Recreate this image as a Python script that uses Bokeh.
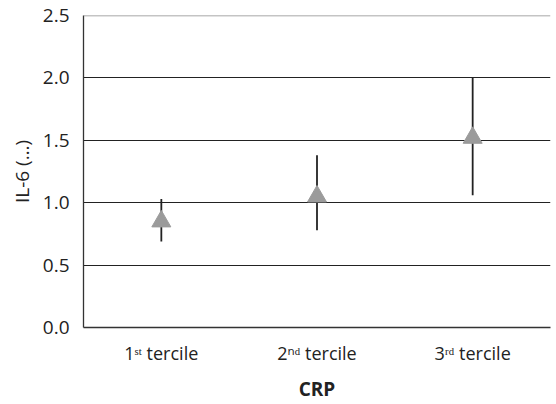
from bokeh.plotting import figure
from bokeh.models import FactorRange, Range1d, FixedTicker, Span, CustomJSTickFormatter
from bokeh.embed import file_html
from bokeh.resources import INLINE

categories = ["1ˢᵗ tercile", "2ⁿᵈ tercile", "3ʳᵈ tercile"]
il6_mean = [0.85, 1.05, 1.52]
ci_lower = [0.69, 0.78, 1.06]
ci_upper = [1.03, 1.38, 2.00]
y_ticks = [0.0, 0.5, 1.0, 1.5, 2.0, 2.5]
grid_ticks = [0.5, 1.0, 1.5, 2.0]

FONT = "Open Sans"

p = figure(width=556, height=404, x_range=FactorRange(*categories, range_padding=0),
           y_range=Range1d(0, 2.5), output_backend="svg", toolbar_location=None,
           min_border_left=83, min_border_right=6, min_border_top=15, min_border_bottom=10)
p.outline_line_color = None
p.background_fill_color = "white"
p.border_fill_color = "white"

p.segment(x0=categories, y0=ci_lower, x1=categories, y1=ci_upper,
          line_color="#222222", line_width=1.8)
p.scatter(x=categories, y=il6_mean, marker="triangle", size=19,
          fill_color="#9b9b9b", line_color="#9b9b9b")

p.xgrid.grid_line_color = None
p.ygrid.ticker = FixedTicker(ticks=grid_ticks)
p.ygrid.grid_line_color = "#222222"
p.ygrid.grid_line_width = 1.2
p.add_layout(Span(location=p.y_range.end, dimension="width", line_color="#8a8a8a", line_width=1.5))

p.yaxis.ticker = FixedTicker(ticks=y_ticks)
p.yaxis.formatter = CustomJSTickFormatter(code="return tick.toFixed(1);")
for ax in (p.xaxis[0], p.yaxis[0]):
    ax.major_tick_line_color = None
    ax.minor_tick_line_color = None
    ax.axis_line_color = "#333333"
    ax.axis_line_width = 1.3
    ax.major_label_text_font = FONT
    ax.major_label_text_color = "#222222"
    ax.axis_label_text_font = FONT
    ax.axis_label_text_color = "#222222"

p.yaxis.major_label_text_font_size = "19px"
p.yaxis.major_label_standoff = 8
p.yaxis.axis_label = "IL-6 (…)"
p.yaxis.axis_label_text_font_size = "19px"
p.yaxis.axis_label_text_font_style = "normal"
p.yaxis.axis_label_standoff = 5

p.xaxis.major_label_text_font_size = "18px"
p.xaxis.major_label_standoff = 7
p.xaxis.axis_label = "CRP"
p.xaxis.axis_label_text_font_size = "19px"
p.xaxis.axis_label_text_font_style = "bold"
p.xaxis.axis_label_standoff = 8

open("out.html", "w").write(file_html(p, INLINE))
